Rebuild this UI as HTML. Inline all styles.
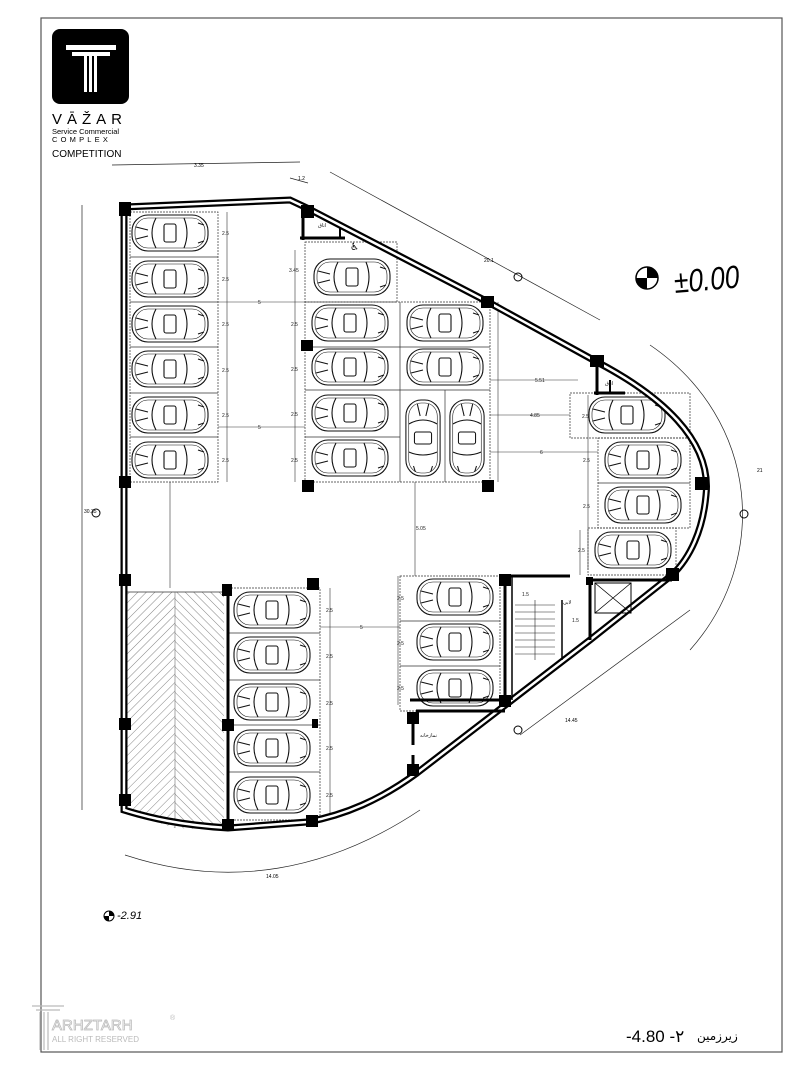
<!DOCTYPE html>
<html><head><meta charset="utf-8"><style>
html,body{margin:0;padding:0;background:#fff;width:810px;height:1080px;overflow:hidden}
svg{display:block}
text{font-family:"Liberation Sans","DejaVu Sans",sans-serif}
</style></head><body>
<svg width="810" height="1080" viewBox="0 0 810 1080" xmlns="http://www.w3.org/2000/svg">
<defs>
<pattern id="hatchA" width="6" height="6" patternUnits="userSpaceOnUse" patternTransform="rotate(45)"><line x1="0" y1="0" x2="0" y2="6" stroke="#666" stroke-width="0.8"/></pattern>
<pattern id="hatchB" width="6" height="6" patternUnits="userSpaceOnUse" patternTransform="rotate(-45)"><line x1="0" y1="0" x2="0" y2="6" stroke="#666" stroke-width="0.8"/></pattern>
<g id="car" fill="none" stroke="#111" stroke-width="1.1">
<rect x="-38" y="-18" width="76" height="36" rx="16"/>
<rect x="-35" y="-15" width="70" height="30" rx="13" stroke-width="0.6"/>
<path d="M-14,-15 Q-22,0 -14,15 M14,-15 Q20,0 14,15"/>
<rect x="-6" y="-9" width="12" height="18" rx="2"/>
<path d="M-34,-6 L-22,-3 M-34,6 L-22,3 M28,-10 L34,-8 M28,10 L34,8"/>
</g>
</defs>
<rect x="41" y="18" width="741" height="1034" fill="none" stroke="#555" stroke-width="1.2"/>
<rect x="52" y="29" width="77" height="75" rx="8" fill="#000"/>
<rect x="66" y="45" width="50" height="5" fill="#fff"/>
<rect x="72" y="52" width="38" height="4" fill="#fff"/>
<rect x="84" y="56" width="3" height="36" fill="#fff"/><rect x="89" y="56" width="3" height="36" fill="#fff"/><rect x="94" y="56" width="3" height="36" fill="#fff"/>
<text x="52" y="124" font-size="15" letter-spacing="5">VĀŽAR</text>
<text x="52" y="134" font-size="7.5">Service Commercial</text>
<text x="52" y="142" font-size="7.5" letter-spacing="3.2">COMPLEX</text>
<text x="52" y="157" font-size="10">COMPETITION</text>
<g stroke="#222" stroke-width="0.7" fill="none">
<line x1="112" y1="165" x2="300" y2="162"/>
<line x1="290" y1="178" x2="308" y2="183"/>
<line x1="330" y1="172" x2="600" y2="320"/>
<line x1="82" y1="205" x2="82" y2="810"/>
<path d="M650,345 C760,420 770,560 690,650"/>
<line x1="520" y1="735" x2="690" y2="610"/>
<path d="M125,855 C230,890 330,870 420,810"/>
</g>
<text x="194" y="167" font-size="5">3.35</text>
<text x="298" y="180" font-size="5">1.2</text>
<text x="484" y="262" font-size="5">20.1</text>
<text x="757" y="472" font-size="5">21</text>
<text x="565" y="722" font-size="5">14.45</text>
<text x="266" y="878" font-size="5">14.05</text>
<text x="84" y="513" font-size="5">30.35</text>
<g fill="none" stroke="#333" stroke-width="0.7">
<rect x="130" y="212" width="88" height="270" stroke-dasharray="2,1"/>
<path d="M130,257 H218 M130,302 H218 M130,347 H218 M130,393 H218 M130,437 H218"/>
<rect x="305" y="242" width="92" height="60" stroke-dasharray="2,1"/>
<rect x="305" y="302" width="185" height="180" stroke-dasharray="2,1"/>
<path d="M305,347 H490 M305,390 H490 M305,437 H400 M400,302 V482 M445,390 V482"/>
<rect x="570" y="393" width="120" height="45" stroke-dasharray="2,1"/>
<rect x="598" y="438" width="92" height="90" stroke-dasharray="2,1"/>
<path d="M598,483 H690"/>
<rect x="588" y="528" width="88" height="47" stroke-dasharray="2,1"/>
<rect x="400" y="576" width="100" height="135" stroke-dasharray="2,1"/>
<path d="M400,621 H500 M400,666 H500"/>
<rect x="228" y="588" width="92" height="232" stroke-dasharray="2,1"/>
<path d="M228,633 H320 M228,680 H320 M228,725 H320 M228,772 H320"/>
</g>
<g stroke="#333" stroke-width="0.6">
<line x1="227" y1="212" x2="227" y2="482"/><line x1="295" y1="250" x2="295" y2="482"/>
<line x1="218" y1="302" x2="305" y2="302"/><line x1="218" y1="427" x2="305" y2="427"/>
<line x1="498" y1="302" x2="498" y2="482"/>
<line x1="490" y1="380" x2="578" y2="380"/><line x1="490" y1="415" x2="570" y2="415"/><line x1="490" y1="452" x2="598" y2="452"/>
<line x1="415" y1="482" x2="415" y2="576"/><line x1="170" y1="482" x2="170" y2="588"/>
<line x1="320" y1="627" x2="400" y2="627"/><line x1="330" y1="588" x2="330" y2="815"/>
<line x1="398" y1="576" x2="398" y2="705"/><line x1="588" y1="395" x2="588" y2="570"/><line x1="580" y1="530" x2="580" y2="575"/>
</g>
<g font-size="5" fill="#222">
<text x="222" y="235">2.5</text><text x="222" y="281">2.5</text><text x="222" y="326">2.5</text><text x="222" y="372">2.5</text><text x="222" y="417">2.5</text><text x="222" y="462">2.5</text>
<text x="289" y="272">3.45</text><text x="291" y="326">2.5</text><text x="291" y="371">2.5</text><text x="291" y="416">2.5</text><text x="291" y="462">2.5</text>
<text x="258" y="304">5</text><text x="258" y="429">5</text><text x="535" y="382">5.51</text><text x="530" y="417">4.85</text><text x="540" y="454">6</text>
<text x="416" y="530">5.05</text><text x="360" y="629">5</text>
<text x="326" y="612">2.5</text><text x="326" y="658">2.5</text><text x="326" y="705">2.5</text><text x="326" y="750">2.5</text><text x="326" y="797">2.5</text>
<text x="397" y="600">2.5</text><text x="397" y="645">2.5</text><text x="397" y="690">2.5</text>
<text x="582" y="418">2.5</text><text x="583" y="462">2.5</text><text x="583" y="508">2.5</text><text x="578" y="552">2.5</text>
<text x="522" y="596">1.5</text><text x="572" y="622">1.5</text>
</g>
<g>
<use href="#car" x="170" y="233"/><use href="#car" x="170" y="279"/><use href="#car" x="170" y="324"/><use href="#car" x="170" y="369"/><use href="#car" x="170" y="415"/><use href="#car" x="170" y="460"/>
<use href="#car" x="352" y="277"/><use href="#car" x="350" y="323"/><use href="#car" x="350" y="367"/><use href="#car" x="350" y="413"/><use href="#car" x="350" y="458"/>
<use href="#car" x="445" y="323"/><use href="#car" x="445" y="367"/>
<use href="#car" transform="translate(423,438) rotate(90) scale(1,0.95)"/><use href="#car" transform="translate(467,438) rotate(90) scale(1,0.95)"/>
<use href="#car" x="627" y="415"/><use href="#car" x="643" y="460"/><use href="#car" x="643" y="505"/><use href="#car" x="633" y="550"/>
<use href="#car" x="455" y="597"/><use href="#car" x="455" y="642"/><use href="#car" x="455" y="688"/>
<use href="#car" x="272" y="610"/><use href="#car" x="272" y="655"/><use href="#car" x="272" y="702"/><use href="#car" x="272" y="748"/><use href="#car" x="272" y="795"/>
</g>
<path d="M124,592 H175 V828 C155,822 138,816 124,810 Z" fill="url(#hatchA)"/>
<path d="M175,592 H224 V830 L175,828 Z" fill="url(#hatchB)"/>
<line x1="124" y1="592" x2="224" y2="592" stroke="#333" stroke-width="0.7"/>
<line x1="175" y1="592" x2="175" y2="828" stroke="#555" stroke-width="0.5"/>
<path d="M124,207 L290,200 L307,208 L488,302 L597,362 C660,395 712,440 706,495 C703,530 690,558 672,575 L590,640 L417,773 C380,800 345,815 307,822 L228,828 C180,825 150,818 124,810 Z" fill="none" stroke="#000" stroke-width="7"/>
<path d="M124,207 L290,200 L307,208 L488,302 L597,362 C660,395 712,440 706,495 C703,530 690,558 672,575 L590,640 L417,773 C380,800 345,815 307,822 L228,828 C180,825 150,818 124,810 Z" fill="none" stroke="#fff" stroke-width="2.5"/>
<g stroke="#000" fill="none">
<line x1="228" y1="588" x2="228" y2="828" stroke-width="3"/>
<path d="M303,212 V240 M300,238 H345" stroke-width="3"/><line x1="340" y1="228" x2="340" y2="238" stroke-width="2"/>
<path d="M597,362 V395 M594,393 H625" stroke-width="3"/><line x1="610" y1="380" x2="610" y2="393" stroke-width="2"/>
<path d="M505,576 V705 M500,576 H570 M505,700 H410" stroke-width="3"/>
<path d="M512,576 V700 M562,600 V660" stroke-width="1.5"/>
<path d="M590,580 H672 M590,580 V640" stroke-width="3"/>
<rect x="595" y="583" width="36" height="30" stroke-width="1"/>
<path d="M595,583 L631,613 M631,583 L595,613" stroke-width="0.8"/>
<path d="M413,718 V745 M413,755 V775" stroke-width="3"/>
<path d="M416,711 H505" stroke-width="3"/>
</g>
<g stroke="#222" stroke-width="0.6">
<line x1="515" y1="605" x2="555" y2="605"/><line x1="515" y1="612" x2="555" y2="612"/><line x1="515" y1="619" x2="555" y2="619"/><line x1="515" y1="626" x2="555" y2="626"/><line x1="515" y1="633" x2="555" y2="633"/><line x1="515" y1="640" x2="555" y2="640"/><line x1="515" y1="647" x2="555" y2="647"/><line x1="515" y1="654" x2="555" y2="654"/><line x1="535" y1="600" x2="535" y2="660"/>
</g>
<g fill="#000">
<rect x="119" y="202" width="12" height="14"/><rect x="119" y="476" width="12" height="12"/><rect x="119" y="574" width="12" height="12"/><rect x="119" y="718" width="12" height="12"/><rect x="119" y="794" width="12" height="12"/>
<rect x="301" y="205" width="13" height="13"/><rect x="481" y="296" width="13" height="12"/><rect x="590" y="355" width="14" height="12"/>
<rect x="301" y="340" width="12" height="11"/><rect x="302" y="480" width="12" height="12"/><rect x="482" y="480" width="12" height="12"/>
<rect x="695" y="477" width="13" height="13"/><rect x="666" y="568" width="13" height="13"/>
<rect x="222" y="584" width="10" height="12"/><rect x="307" y="578" width="12" height="12"/><rect x="222" y="719" width="12" height="12"/><rect x="312" y="719" width="6" height="9"/>
<rect x="222" y="819" width="12" height="12"/><rect x="306" y="815" width="12" height="12"/>
<rect x="499" y="574" width="12" height="12"/><rect x="499" y="695" width="12" height="12"/><rect x="407" y="712" width="12" height="12"/><rect x="407" y="764" width="12" height="12"/><rect x="586" y="577" width="7" height="8"/>
</g>
<g font-size="5" fill="#111"><text x="318" y="227">اتاق</text><text x="605" y="385">اتاق</text><text x="563" y="604">لابی</text><text x="420" y="737">نمازخانه</text></g>
<text x="350" y="250" font-size="10">♿</text>
<g stroke="#000" fill="none" stroke-width="1"><circle cx="518" cy="277" r="4"/><circle cx="518" cy="730" r="4"/><circle cx="744" cy="514" r="4"/><circle cx="96" cy="513" r="4"/></g>
<circle cx="647" cy="278" r="11" fill="none" stroke="#000" stroke-width="1.5"/>
<path d="M647,267 A11,11 0 0,1 658,278 L647,278 Z M647,289 A11,11 0 0,1 636,278 L647,278 Z" fill="#000"/>
<text font-size="32" font-style="italic" transform="translate(675,293) rotate(-5) scale(0.82,1)">±0.00</text>
<circle cx="109" cy="916" r="5" fill="none" stroke="#000"/><path d="M109,911 A5,5 0 0,1 114,916 L109,916 Z M109,921 A5,5 0 0,1 104,916 L109,916Z"/>
<text x="117" y="919" font-size="11" font-style="italic">-2.91</text>
<g fill="none" stroke="#bbb" stroke-width="1.2">
<path d="M32,1006 H64 M36,1010 H60 M40,1012 V1050 M44,1012 V1050 M48,1012 V1050"/>
</g>
<text x="52" y="1030" font-size="15" fill="none" stroke="#bbb" stroke-width="0.8">ARHZTARH</text>
<text x="52" y="1042" font-size="8" fill="#bbb">ALL RIGHT RESERVED</text>
<text x="170" y="1020" font-size="7" fill="#bbb">®</text>
<text x="626" y="1042" font-size="17">-4.80 -٢</text>
<text x="697" y="1040" font-size="12" font-family="DejaVu Sans,sans-serif">زیرزمین</text>
</svg>
</body></html>
